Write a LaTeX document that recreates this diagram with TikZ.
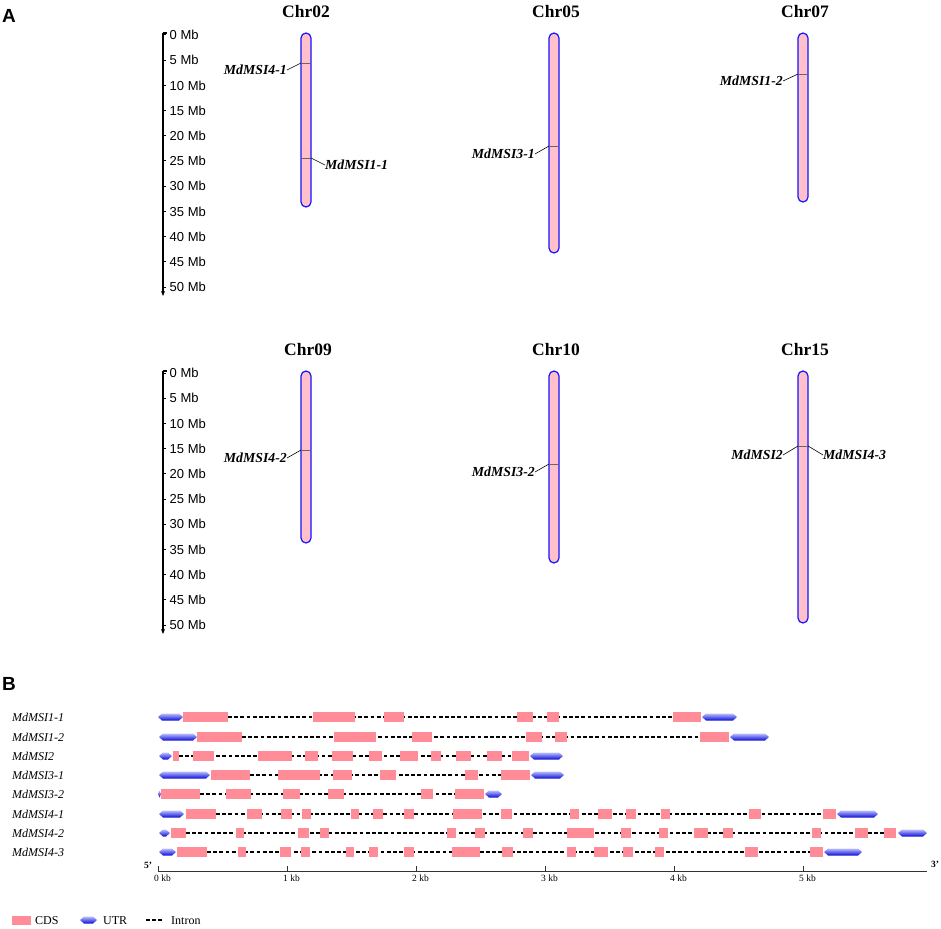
\documentclass[tikz,border=0pt]{standalone}
\usepackage{fontspec}
\usetikzlibrary{arrows.meta}
\setmainfont{Liberation Serif}
\setsansfont{Liberation Sans}
\definecolor{cdsc}{RGB}{255,140,150}
\definecolor{chrfill}{RGB}{255,192,203}
\definecolor{chrline}{RGB}{20,20,255}
\definecolor{utrtop}{RGB}{185,190,255}
\definecolor{utrbot}{RGB}{10,10,210}
\tikzset{
  chrom/.style={draw=chrline, fill=chrfill, line width=1.2pt, rounded corners=5pt},
  marker/.style={draw=black!60, line width=0.6pt},
  leader/.style={draw=black, line width=0.6pt},
  chrtitle/.style={font=\fontsize{17.5}{20}\selectfont\bfseries, inner sep=0pt},
  glabA/.style={font=\fontsize{13.8}{15}\selectfont\bfseries\itshape, inner sep=0pt},
  glabB/.style={font=\fontsize{12}{13}\selectfont\itshape, inner sep=0pt, anchor=west},
  mblab/.style={font=\sffamily\fontsize{13}{15}\selectfont, inner sep=0pt, anchor=west},
  kblab/.style={font=\fontsize{9.5}{10}\selectfont, inner sep=0pt, anchor=north west},
  intron/.style={draw=black, line width=1.6pt, dash pattern=on 3.8pt off 2.4pt},
  panel/.style={font=\sffamily\bfseries\fontsize{19}{21}\selectfont, inner sep=0pt, anchor=west},
  legtext/.style={font=\fontsize{12}{14}\selectfont, inner sep=0pt, anchor=west},
}
\newcommand\cdsrow[2]{\foreach \a/\b in {#2} {\fill[cdsc] (\a,#1-5) rectangle (\b,#1+5);}}
\newcommand\utrshape[3]{%
  \pgfmathsetmacro\ins{min(4,(#3-#2)/2)}%
  \shade[top color=utrtop,bottom color=utrbot] (#2,#1) -- (#2+\ins,#1-3.5) -- (#3-\ins,#1-3.5) -- (#3,#1) -- (#3-\ins,#1+3.5) -- (#2+\ins,#1+3.5) -- cycle;}
\begin{document}
\begin{tikzpicture}[x=1pt,y=-1pt]
\useasboundingbox (0,0) rectangle (941,928);
\fill[white] (0,0) rectangle (941,928);

% panel labels
\node[panel] (pA) at (2,16) {A};
\node[panel] (pB) at (2,684) {B};

% ---------- scale bars ----------
\foreach \top/\nm in {35/s1,373/s2}{
  \draw[line width=1.2pt, -{Stealth[length=5pt,width=4pt]}] (163,\top-2) -- (163,\top+261);
  \draw[line width=1.2pt] (163,\top-2) -- (167,\top-2);
  \foreach \k in {0,...,10}{
    \pgfmathtruncatemacro\mb{5*\k}
    \draw[line width=1pt] (163,\top+25.2*\k) -- (166,\top+25.2*\k);
    \node[mblab] at (169.5,\top+25.2*\k) {\mb\ Mb};
  }
}

% ---------- chromosomes ----------
% Chr02
\node[chrtitle] (t02) at (306,12) {Chr02};
\draw[chrom] (301,33) rectangle (311,207);
\draw[marker] (301,63) -- (311,63);
\draw[marker] (301,158) -- (311,158);
\node[glabA, anchor=east] (g41) at (287,70) {MdMSI4-1};
\node[glabA, anchor=west] (g11) at (325,165) {MdMSI1-1};
\draw[leader] (301,63) -- (g41.east);
\draw[leader] (311,158) -- (g11.west);
% Chr05
\node[chrtitle] (t05) at (556,12) {Chr05};
\draw[chrom] (549,33) rectangle (559,253);
\draw[marker] (549,146) -- (559,146);
\node[glabA, anchor=east] (g31) at (535,154) {MdMSI3-1};
\draw[leader] (549,146) -- (g31.east);
% Chr07
\node[chrtitle] (t07) at (805,12) {Chr07};
\draw[chrom] (798,33) rectangle (808,202);
\draw[marker] (798,74) -- (808,74);
\node[glabA, anchor=east] (g12) at (783,81) {MdMSI1-2};
\draw[leader] (798,74) -- (g12.east);
% Chr09
\node[chrtitle] (t09) at (308,350) {Chr09};
\draw[chrom] (301,371) rectangle (311,543);
\draw[marker] (301,450) -- (311,450);
\node[glabA, anchor=east] (g42) at (287,458) {MdMSI4-2};
\draw[leader] (301,450) -- (g42.east);
% Chr10
\node[chrtitle] (t10) at (556,350) {Chr10};
\draw[chrom] (549,371) rectangle (559,563);
\draw[marker] (549,464) -- (559,464);
\node[glabA, anchor=east] (g32) at (535,472) {MdMSI3-2};
\draw[leader] (549,464) -- (g32.east);
% Chr15
\node[chrtitle] (t15) at (805,350) {Chr15};
\draw[chrom] (798,371) rectangle (808,623);
\draw[marker] (798,446) -- (808,446);
\node[glabA, anchor=east] (g2) at (783,455) {MdMSI2};
\node[glabA, anchor=west] (g43) at (823,455) {MdMSI4-3};
\draw[leader] (798,446) -- (g2.east);
\draw[leader] (808,446) -- (g43.west);

% ---------- gene structures ----------
% row 1
\node[glabB] (n1) at (12,717) {MdMSI1-1};
\draw[intron] (228,717) -- (673,717);
\utrshape{717}{158}{183}
\cdsrow{717}{183/228,313/355,384/404,517/533,547/559,673/701}
\utrshape{717}{702}{737}
% row 2
\node[glabB] (n2) at (12,737) {MdMSI1-2};
\draw[intron] (242,737) -- (700,737);
\utrshape{737}{159}{197}
\cdsrow{737}{197/242,334/376,412/432,526/542,555/567,700/729}
\utrshape{737}{730}{769}
% row 3
\node[glabB] (n3) at (12,756) {MdMSI2};
\draw[intron] (179,756) -- (512,756);
\utrshape{756}{159}{172}
\cdsrow{756}{173/179,193/214,258/292,305/318,332/353,369/382,400/418,431/441,456/471,487/502,512/529}
\utrshape{756}{530}{563}
% row 4
\node[glabB] (n4) at (12,775) {MdMSI3-1};
\draw[intron] (250,775) -- (501,775);
\utrshape{775}{159}{210}
\cdsrow{775}{211/250,278/320,333/352,380/396,465/478,501/530}
\utrshape{775}{531}{564}
% row 5
\node[glabB] (n5) at (12,794) {MdMSI3-2};
\draw[intron] (200,794) -- (455,794);
\utrshape{794}{158}{161}
\cdsrow{794}{161/200,226/251,283/300,328/344,421/433,455/484}
\utrshape{794}{485}{502}
% row 6
\node[glabB] (n6) at (12,814) {MdMSI4-1};
\draw[intron] (216,814) -- (823,814);
\utrshape{814}{159}{184}
\cdsrow{814}{186/216,247/262,281/292,302/311,351/359,373/383,404/414,453/482,501/512,570/579,598/612,626/636,661/670,749/761,823/836}
\utrshape{814}{837}{878}
% row 7
\node[glabB] (n7) at (12,833) {MdMSI4-2};
\draw[intron] (186,833) -- (884,833);
\utrshape{833}{159}{170}
\cdsrow{833}{171/186,236/244,298/309,320/329,447/456,475/485,523/533,567/594,621/631,659/668,694/708,723/733,812/821,855/868,884/896}
\utrshape{833}{898}{927}
% row 8
\node[glabB] (n8) at (12,852) {MdMSI4-3};
\draw[intron] (207,852) -- (810,852);
\utrshape{852}{159}{176}
\cdsrow{852}{177/207,238/246,280/291,301/310,346/354,369/378,404/414,452/480,502/513,567/576,594/608,623/633,655/664,745/758,810/823}
\utrshape{852}{824}{862}

% kb axis
\coordinate (ax0) at (158,871);
\coordinate (ax1) at (927,871);
\draw[line width=0.8pt, black!80] (ax0) -- (ax1);
\foreach \k in {0,...,5}{
  \draw[line width=0.8pt, black!80] (158+129*\k,871) -- (158+129*\k,866);
  \node[kblab] at (154+129*\k,875) {\k\ kb};
}
\node[font=\fontsize{9.5}{10}\selectfont\bfseries, inner sep=0pt] (p5) at (148,865) {5'};
\node[font=\fontsize{9.5}{10}\selectfont\bfseries, inner sep=0pt] (p3) at (935,864) {3'};

% legend
\fill[cdsc] (12,916) rectangle (31,925);
\node[legtext] (lc) at (35,921) {CDS};
\utrshape{920}{80}{97}
\node[legtext] (lu) at (103,921) {UTR};
\draw[intron] (146,920) -- (163,920);
\node[legtext] (li) at (171,921) {Intron};
\end{tikzpicture}
\end{document}
